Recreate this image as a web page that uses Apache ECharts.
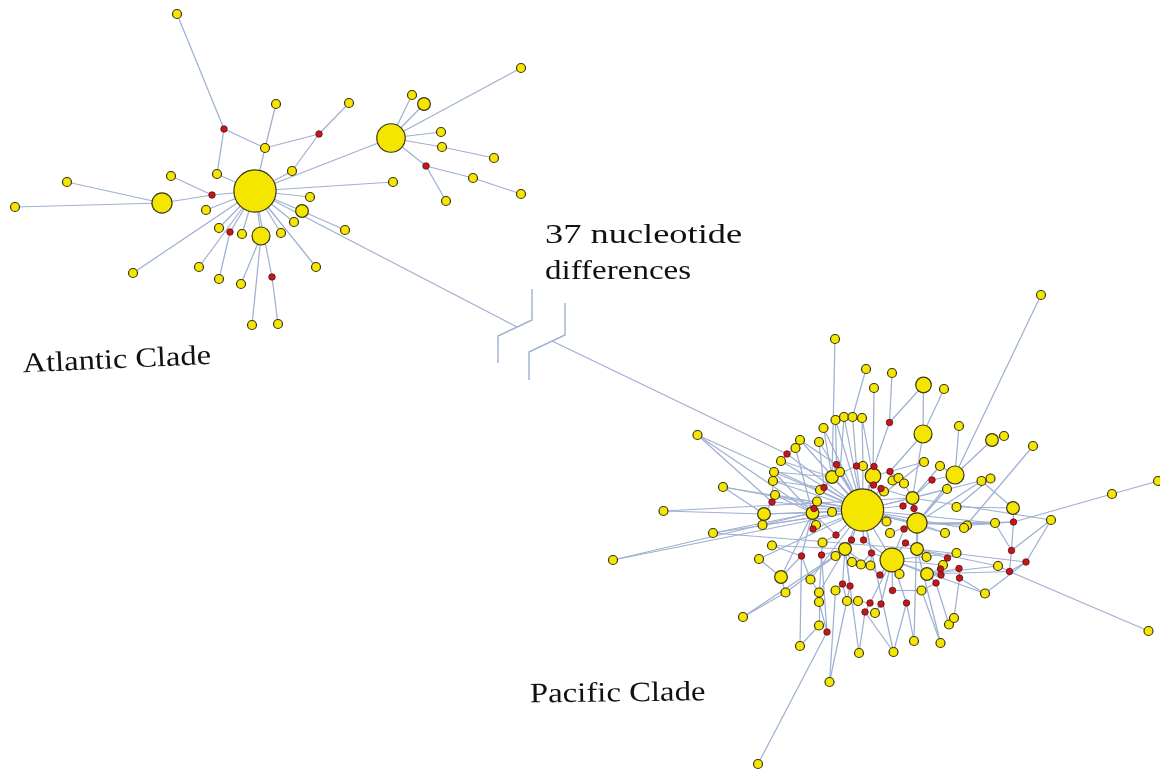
<!DOCTYPE html>
<html>
<head>
<meta charset="utf-8">
<script src="https://cdn.jsdelivr.net/npm/echarts@6/dist/echarts.min.js"></script>
<style>html,body{margin:0;padding:0;background:#fff}#c{width:1160px;height:773px}</style>
</head>
<body>
<div id="c"></div>
<script>
// Node tables: [id, x, y, frequency]  (frequency 0 = median vector / missing haplotype)
const atlanticNodes = [
  ['a0',255,191,22],['a1',177,14,1],['a2',224,129,0],['a3',276,104,1],['a4',349,103,1],
  ['a5',319,134,0],['a6',265,148,1],['a7',217,174,1],['a8',171,176,1],['a9',292,171,1],
  ['a10',212,195,0],['a11',67,182,1],['a12',15,207,1],['a13',162,203,5],['a14',206,210,1],
  ['a15',310,197,1],['a16',302,211,2],['a17',294,222,1],['a18',345,230,1],['a19',393,182,1],
  ['a20',219,228,1],['a21',230,232,0],['a22',242,234,1],['a23',261,236,4],['a24',281,233,1],
  ['a25',133,273,1],['a26',199,267,1],['a27',219,279,1],['a28',241,284,1],['a29',272,277,0],
  ['a30',316,267,1],['a31',252,325,1],['a32',278,324,1],['a33',391,138,10],['a34',412,95,1],
  ['a35',424,104,2],['a36',521,68,1],['a37',441,132,1],['a38',442,147,1],['a39',494,158,1],
  ['a40',426,166,0],['a41',473,178,1],['a42',521,194,1],['a43',446,201,1]
];
const pacificHubs = [
  ['P0',862.5,510,22],['P1',892,560,7],['P2',917,523,5],['P3',955,475,4],['P4',923,434,4],
  ['P5',873,476,3],['P6',832,477,2],['P7',812.5,513,2],['P8',764,514,2],['P9',781,577,2],
  ['P10',845,549,2],['P11',917,549,2],['P12',927,574,2],['P13',912.5,498,2],['P14',1013,508,2],
  ['P15',992,440,2],['P16',923.5,385,3]
];
const pacificSingletons = [
  ['s1',1041,295,1],['s2',835,339,1],['s3',866,369,1],['s4',892,373,1],['s5',874,388,1],
  ['s6',944,389,1],['s7',835.5,420,1],['s8',844,417,1],['s9',852.5,417,1],['s10',862,418,1],
  ['s11',823.5,428,1],['s12',819,442,1],['s13',959,426,1],['s14',1004,436,1],['s15',1033,446,1],
  ['s16',697.5,435,1],['s17',800,440,1],['s18',795.5,448,1],['s19',781,461,1],['s20',774,472,1],
  ['s21',773,481,1],['s22',723,487,1],['s23',775,495,1],['s24',663.5,511,1],['s25',762.5,525,1],
  ['s26',713,533,1],['s27',613,560,1],['s28',772,545.5,1],['s29',759,559,1],['s30',785.5,592.5,1],
  ['s31',743,617,1],['s32',819,592.5,1],['s33',819,602,1],['s34',819,625.5,1],['s35',800,646,1],
  ['s36',829.5,682,1],['s37',758,764,1],['s38',859,653,1],['s39',893.5,652,1],['s40',914,641,1],
  ['s41',940.5,643,1],['s42',949,624.5,1],['s43',954,618,1],['s44',985,593.5,1],['s45',1148.5,631,1],
  ['s46',1112,494,1],['s47',1158,481,1],['s48',1051,520,1],['s49',995,523,1],['s50',998,566,1],
  ['s51',967,525.5,1],['s52',981.5,481,1],['s53',990.5,478.5,1],['s54',947,489,1],['s55',940,466,1],
  ['s56',924,462,1],['s57',956.5,507,1],['s58',945,533,1],['s59',956.5,553,1],['s60',943,565,1],
  ['s61',921.5,590.5,1],['s62',899.5,574,1],['s63',886.5,521.5,1],['s64',890,533,1],['s65',832,512,1],
  ['s66',822.5,542.5,1],['s67',835.5,556,1],['s68',852,562,1],['s69',861,564.5,1],['s70',870.5,565.5,1],
  ['s71',810.5,579.5,1],['s72',835.5,590.5,1],['s73',847,601,1],['s74',858,601,1],['s75',875,613,1],
  ['s76',863,466,1],['s77',840,472,1],['s78',892.5,480.5,1],['s79',898.5,478,1],['s80',904,483.5,1],
  ['s81',884,491.5,1],['s82',820,490,1],['s83',817,501.5,1],['s84',816,525,1],['s85',964,528,1],
  ['s87',926.5,557,1]
];
const pacificMedians = [
  ['r1',889.5,422.5,0],['r2',787,454,0],['r3',772,502,0],['r4',813,529,0],['r5',836.5,464.5,0],
  ['r6',856.5,466,0],['r7',874,466.5,0],['r8',873.5,485,0],['r9',824,487.5,0],['r10',814,508.5,0],
  ['r11',890,471.5,0],['r12',932,480,0],['r13',881,488.5,0],['r14',903,506,0],['r15',914,508.5,0],
  ['r16',904,529,0],['r17',836,535,0],['r18',851.5,540,0],['r19',863.5,540,0],['r20',801.5,556,0],
  ['r21',821.5,555,0],['r22',871.5,553,0],['r23',905.5,543,0],['r24',880,575,0],['r25',842.5,584,0],
  ['r26',850,586,0],['r27',892.5,590.5,0],['r28',870,603,0],['r29',881,604,0],['r30',906.5,603,0],
  ['r31',865,612,0],['r32',827,632,0],['r33',947.5,558,0],['r34',940.5,569,0],['r35',941,575,0],
  ['r36',936,583,0],['r37',959,568.5,0],['r38',959.5,578,0],['r39',1013.5,522,0],['r40',1011.5,550.5,0],
  ['r41',1026,562,0],['r42',1009.5,571.5,0]
];
// ends of the broken 37-step branch
const breakNodes = [['bL',517,327],['bR',552,341]];
// the two "break" marks on the long branch
const breakLeft = [[532,289],[532,320],[498,336],[498,363]];
const breakRight = [[565,303],[565,335],[529,352],[529,380]];

const atlanticLinks = [
  ['a1','a2'],['a2','a7'],['a2','a6'],['a6','a0'],['a3','a6'],['a6','a5'],['a5','a4'],['a5','a9'],
  ['a9','a0'],['a7','a0'],['a8','a10'],['a10','a0'],['a13','a10'],['a11','a13'],['a12','a13'],
  ['a14','a0'],['a15','a0'],['a16','a0'],['a17','a0'],['a18','a16'],['a19','a0'],['a33','a0'],
  ['a20','a0'],['a21','a0'],['a21','a27'],['a22','a0'],['a23','a0'],['a24','a0'],['a25','a0'],
  ['a26','a0'],['a28','a23'],['a29','a0'],['a29','a32'],['a31','a23'],['a30','a0'],['a34','a33'],
  ['a35','a33'],['a36','a33'],['a37','a33'],['a38','a33'],['a38','a39'],['a40','a33'],['a40','a41'],
  ['a41','a42'],['a40','a43']
];
const bridgeLinks = [['a0','bL'],['bR','r2']];
const pacificLinks = [
  ['s1','P3'],['s2','P6'],['s3','s9'],['s9','r6'],['s4','r1'],['r1','P16'],['r1','r7'],['s5','P5'],
  ['P16','P4'],['s6','P4'],['P4','P13'],['P4','r11'],['s7','r5'],['s8','s77'],['s10','s76'],['s11','P6'],
  ['s12','r9'],['s13','P3'],['s14','P15'],['P15','P3'],['s15','s85'],['P3','r12'],['r12','P13'],['P3','P2'],
  ['s55','P3'],['s56','r11'],['s54','P2'],['s52','P14'],['s53','s57'],['s57','P14'],['P14','r39'],
  ['s16','r3'],['s17','r5'],['s18','r2'],['r2','s19'],['r2','P0'],['s19','P6'],['s20','P7'],['s21','r3'],
  ['r3','P8'],['r3','P0'],['s22','P8'],['s23','P7'],['s24','P8'],['s25','P8'],['P8','P7'],['P8','P0'],
  ['s26','P7'],['s27','P7'],['P7','P0'],['r10','P0'],['r10','P7'],['r4','P0'],['r4','P7'],['s84','r4'],
  ['s82','r9'],['r9','P0'],['s83','P0'],['r9','P6'],['P6','P0'],['r5','P6'],['r5','P0'],['s77','P0'],
  ['r6','P0'],['r6','P6'],['s76','P0'],['r7','P5'],['r7','P0'],['P5','P0'],['r8','P5'],['r8','P0'],
  ['s81','r13'],['r13','P0'],['r13','P13'],['r11','P5'],['s78','r11'],['s79','r11'],['s80','P13'],
  ['P13','P0'],['s65','P0'],
  ['P2','P0'],['s63','P0'],['s64','P2'],['r14','P13'],['r14','P0'],['r15','P2'],['r15','P13'],['r16','P2'],
  ['r16','P1'],['P1','P0'],['P11','P2'],['s87','P11'],['r23','P11'],['r23','P1'],['s58','P2'],['s59','r33'],
  ['r33','P11'],['s60','r34'],['r34','P12'],['r35','P12'],['r36','s61'],['r36','P12'],['r37','P12'],
  ['r37','r38'],['r38','s44'],['s42','r36'],['s43','r38'],['s41','s61'],['s61','r27'],['r27','P1'],
  ['s62','P1'],['P12','P1'],['r30','P1'],['s40','r30'],['s39','r30'],['s39','r31'],['r31','r28'],
  ['r28','P1'],['r29','P1'],['s75','r29'],['s38','r31'],['s74','r28'],['s73','r25'],['r25','P10'],
  ['r26','P10'],['s72','r25'],['s36','s72'],['s68','P10'],['s69','r22'],['s70','r22'],['r22','P1'],
  ['r22','P0'],['r18','P10'],['r19','P0'],['r18','P0'],['r17','P0'],['P10','P0'],['r17','P7'],
  ['s66','r17'],['r21','P10'],['s67','P10'],['r21','s66'],['r20','P9'],['r20','P7'],['s28','r20'],
  ['s29','P9'],['P9','P7'],['s30','P9'],['s31','s30'],['s71','r20'],['s32','s71'],['s33','s32'],
  ['s34','s33'],['s37','r32'],['s35','s34'],['r32','s33'],['r32','r21'],['r24','P1'],['r24','P10'],
  ['r19','P1'],
  ['s45','r42'],['r42','r40'],['r40','r39'],['s46','r39'],['s47','s46'],['s48','r40'],['s48','r41'],
  ['r41','r42'],['r42','s50'],['s50','P12'],['r40','s49'],['s49','P2'],['r39','s51'],['s51','P2'],
  ['s85','P0'],['r41','s44'],['r39','P2'],
  ['s24','P13'],['s26','P11'],['r41','P11'],['r42','P12'],['s48','P13'],['s44','P1'],['s35','r20'],
  ['s38','P10'],['s40','P2'],['s41','P11'],['s31','P10'],['s36','r26'],['s39','P0'],['s16','P0'],
  ['s22','P2'],['s27','P0'],
  ['s17','P0'],['s18','P7'],['s19','P0'],['s20','P0'],['s21','P0'],['s23','P0'],['s11','P0'],
  ['s12','P0'],['s7','P0'],['s8','P0'],['s10','P5'],['s20','P6'],['s21','r9'],['s16','P7'],
  ['s22','P0'],['s29','P0'],['s28','P10'],['s30','P10'],['s71','P0'],['s32','P10'],['s33','r21'],
  ['s52','P2'],['s53','P13'],['s56','P0'],['s55','P13'],['s54','P0'],['s58','P0'],['s59','P1'],
  ['s60','P1'],['s50','P11'],['s49','P0'],['s25','P0'],['s26','P0']
];

const labels = [
  {text:'Atlantic Clade', x:23, y:351, rot:0.045, sx:1.16},
  {text:'37 nucleotide', x:545, y:222, rot:0, sx:1.3},
  {text:'differences', x:545, y:258, rot:0, sx:1.18},
  {text:'Pacific Clade', x:530, y:681, rot:0.012, sx:1.17}
];

const YELLOW = '#f5e600', RED = '#c4161c', EDGE = '#9fb0d2';
function toNode(t) {
  const f = t[3];
  const isMedian = f === 0;
  return {
    name: t[0], value: [t[1], t[2]],
    symbol: 'circle',
    symbolSize: isMedian ? 6.5 : 9 * Math.sqrt(f),
    z: isMedian ? 3 : 2,
    itemStyle: {
      color: isMedian ? RED : YELLOW,
      borderColor: isMedian ? '#5a1010' : '#3a3618',
      borderWidth: isMedian ? 0.8 : 1.2
    }
  };
}
const nodes = [].concat(
  atlanticNodes.map(toNode),
  pacificHubs.map(toNode),
  pacificSingletons.map(toNode),
  pacificMedians.map(toNode),
  breakNodes.map(t => ({name: t[0], value: [t[1], t[2]], symbolSize: 0, itemStyle: {opacity: 0}}))
);
const links = [].concat(atlanticLinks, bridgeLinks, pacificLinks)
  .map(p => ({source: p[0], target: p[1]}));

const chart = echarts.init(document.getElementById('c'), null, {renderer: 'canvas'});
chart.setOption({
  backgroundColor: '#ffffff',
  animation: false,
  grid: {left: 0, right: 0, top: 0, bottom: 0},
  xAxis: {type: 'value', min: 0, max: 1160, show: false},
  yAxis: {type: 'value', min: 0, max: 773, inverse: true, show: false},
  series: [
    {
      type: 'lines',
      coordinateSystem: 'cartesian2d',
      polyline: true,
      silent: true,
      lineStyle: {color: EDGE, width: 1.4, opacity: 1},
      data: [{coords: breakLeft}, {coords: breakRight}]
    },
    {
      type: 'graph',
      coordinateSystem: 'cartesian2d',
      layout: 'none',
      roam: false,
      silent: true,
      data: nodes,
      links: links,
      lineStyle: {color: EDGE, width: 1.25, opacity: 1, curveness: 0},
      label: {show: false},
      emphasis: {disabled: true}
    }
  ],
  graphic: labels.map(l => ({
    type: 'text',
    x: l.x, y: l.y,
    rotation: l.rot,
    scaleX: l.sx,
    originX: 0, originY: 20,
    style: {
      text: l.text,
      font: '28px "Liberation Serif", "DejaVu Serif", serif',
      fill: '#111'
    }
  }))
});
</script>
</body>
</html>
